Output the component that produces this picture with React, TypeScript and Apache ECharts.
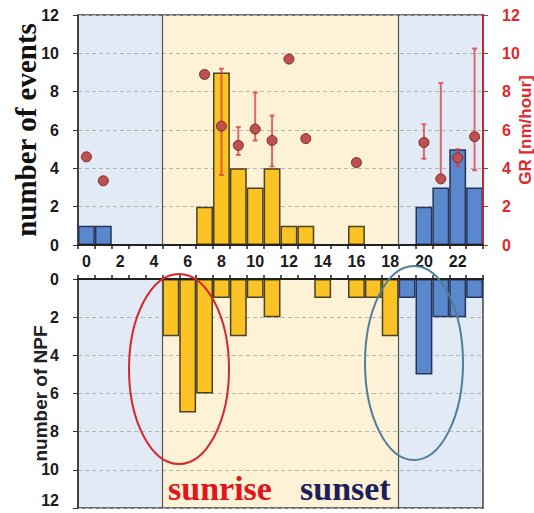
import React, { useEffect, useRef } from "react";
import * as echarts from "echarts";

const hours = ["0","1","2","3","4","5","6","7","8","9","10","11","12","13","14","15","16","17","18","19","20","21","22","23"];
const events = [1,1,0,0,0,0,0,2,9,4,3,4,1,1,0,0,1,0,0,0,2,3,5,3];
const npf = [0,0,0,0,0,3,7,6,1,3,1,2,0,0,1,0,1,1,3,1,5,2,2,1];
const gr = [4.6,3.35,null,null,null,null,null,8.9,6.2,5.2,6.05,5.45,9.7,5.55,null,null,4.3,null,null,null,5.35,3.45,4.55,5.65];
const grLow = [null,null,null,null,null,null,null,null,3.65,4.7,5.45,4.1,null,null,null,null,null,null,null,null,4.5,3.4,4.1,3.9];
const grHigh = [null,null,null,null,null,null,null,null,9.2,6.15,7.95,6.75,null,null,null,null,null,null,null,null,6.3,8.45,5.0,10.25];
const yTicks = [0, 12, 2];
const dayStart = 5;
const dayEnd = 19;

const YELLOW = "#fbc424";
const BLUE = "#5b87cc";
const SHADE_BLUE = "#e2eaf6";
const SHADE_YELLOW = "#fdf2d6";
const SANS = "'Liberation Sans', Arial, sans-serif";
const SERIF = "'Liberation Serif', 'Times New Roman', serif";

function barData(vals: number[]) {
  return vals.map((v, i) => ({
    value: v === 0 ? null : v,
    itemStyle: {
      color: i >= dayStart && i < dayEnd ? YELLOW : BLUE,
      borderColor: i >= dayStart && i < dayEnd ? "#4a4224" : "#26365a",
      borderWidth: 1.5,
    },
  }));
}

function shading(xAxisIndex: number, yAxisIndex: number) {
  return {
    type: "line",
    xAxisIndex,
    yAxisIndex,
    data: [[0, 0]],
    showSymbol: false,
    lineStyle: { opacity: 0 },
    silent: true,
    z: -1,
    markArea: {
      silent: true,
      z: -1,
      data: [
        [{ xAxis: 0, itemStyle: { color: SHADE_BLUE } }, { xAxis: dayStart }],
        [{ xAxis: dayStart, itemStyle: { color: SHADE_YELLOW } }, { xAxis: dayEnd }],
        [{ xAxis: dayEnd, itemStyle: { color: SHADE_BLUE } }, { xAxis: 24 }],
      ],
    },
    markLine: {
      silent: true,
      symbol: "none",
      label: { show: false },
      lineStyle: { color: "#555", type: "solid", width: 1.2 },
      data: [{ xAxis: dayStart }, { xAxis: dayEnd }],
    },
  };
}

export default function App() {
  const ref = useRef<HTMLDivElement>(null);
  useEffect(() => {
    if (!ref.current) return;
    const chart = echarts.init(ref.current, null, { renderer: "svg" });
    const errData: any[] = [];
    grLow.forEach((lo, i) => {
      if (lo != null && grHigh[i] != null) errData.push([i, lo, grHigh[i]]);
    });
    const splitLine = { show: true, lineStyle: { color: "#b5b5b5", type: [4, 3], width: 1 } };
    const option: any = {
      animation: false,
      backgroundColor: "#ffffff",
      grid: [
        { left: 78, top: 15, width: 405, height: 230, show: true, borderColor: "#444", borderWidth: 1.5, backgroundColor: "transparent", outerBoundsMode: "none", containLabel: false },
        { left: 78, top: 279, width: 405, height: 229, show: true, borderColor: "#444", borderWidth: 1.5, backgroundColor: "transparent", outerBoundsMode: "none", containLabel: false },
      ],
      xAxis: [
        {
          type: "category", gridIndex: 0, data: hours, boundaryGap: true, z: 3,
          axisLine: { lineStyle: { color: "#222", width: 2 } },
          axisTick: { show: true, interval: 0, length: 4, lineStyle: { color: "#222", width: 1.5 } },
          axisLabel: { interval: 1, margin: 8, color: "#1a1a1a", fontWeight: "bold", fontSize: 16, fontFamily: SANS },
        },
        { type: "value", gridIndex: 0, min: 0, max: 24, show: false },
        {
          type: "category", gridIndex: 1, data: hours, position: "top", boundaryGap: true, z: 3,
          axisLine: { lineStyle: { color: "#222", width: 2 } },
          axisTick: { show: true, interval: 0, length: 4, lineStyle: { color: "#222", width: 1.5 } },
          axisLabel: { show: false },
        },
        { type: "value", gridIndex: 1, min: 0, max: 24, show: false },
      ],
      yAxis: [
        {
          type: "value", gridIndex: 0, min: yTicks[0], max: yTicks[1], interval: yTicks[2], position: "left", z: 1.5,
          axisLine: { show: true, lineStyle: { color: "#333", width: 1.5 } },
          axisTick: { show: true, length: 5, lineStyle: { color: "#333" } },
          axisLabel: { margin: 19, color: "#1a1a1a", fontWeight: "bold", fontSize: 16, fontFamily: SANS },
          splitLine,
          name: "number of events", nameLocation: "middle", nameGap: 38, nameMoveOverlap: false,
          nameTextStyle: { fontFamily: SERIF, fontWeight: "bold", fontSize: 29, color: "#111" },
        },
        {
          type: "value", gridIndex: 0, min: yTicks[0], max: yTicks[1], interval: yTicks[2], position: "right", z: 3,
          axisLine: { show: true, lineStyle: { color: "#c0282d", width: 2 } },
          axisTick: { show: true, length: 5, lineStyle: { color: "#c0282d" } },
          axisLabel: { margin: 19, color: "#e0282d", fontWeight: "bold", fontSize: 16, fontFamily: SANS },
          splitLine: { show: false },
          name: "GR [nm/hour]", nameLocation: "middle", nameGap: 34, nameRotate: 90, nameMoveOverlap: false,
          nameTextStyle: { fontFamily: SANS, fontWeight: "bold", fontSize: 17, color: "#e0282d" },
        },
        {
          type: "value", gridIndex: 1, min: yTicks[0], max: yTicks[1], interval: yTicks[2], inverse: true, position: "left", z: 1.5,
          axisLine: { show: true, lineStyle: { color: "#333", width: 1.5 } },
          axisTick: { show: true, length: 5, lineStyle: { color: "#333" } },
          axisLabel: { margin: 19, color: "#1a1a1a", fontWeight: "bold", fontSize: 16, fontFamily: SANS, verticalAlignMaxLabel: "bottom" },
          splitLine,
          name: "number of NPF", nameLocation: "middle", nameGap: 28, nameMoveOverlap: false,
          nameTextStyle: { fontFamily: SANS, fontWeight: "bold", fontSize: 19, color: "#222" },
        },
      ],
      series: [
        shading(1, 0),
        shading(3, 2),
        {
          type: "bar", xAxisIndex: 0, yAxisIndex: 0, data: barData(events),
          barWidth: "100%", barCategoryGap: "0%", z: 2,
        },
        {
          type: "custom", xAxisIndex: 0, yAxisIndex: 1, data: errData, z: 3,
          encode: { x: 0, y: [1, 2] },
          renderItem: (params: any, api: any) => {
            const lo = api.coord([api.value(0), api.value(1)]);
            const hi = api.coord([api.value(0), api.value(2)]);
            const style = { stroke: "rgba(214,60,60,0.75)", lineWidth: 2 };
            return {
              type: "group",
              children: [
                { type: "line", shape: { x1: lo[0], y1: lo[1], x2: hi[0], y2: hi[1] }, style },
                { type: "line", shape: { x1: lo[0] - 2.5, y1: lo[1], x2: lo[0] + 2.5, y2: lo[1] }, style },
                { type: "line", shape: { x1: hi[0] - 2.5, y1: hi[1], x2: hi[0] + 2.5, y2: hi[1] }, style },
              ],
            };
          },
        },
        {
          type: "scatter", xAxisIndex: 0, yAxisIndex: 1, data: gr, symbolSize: 10, z: 4,
          itemStyle: { color: "#c0504d", borderColor: "#7a2a2a", borderWidth: 1, opacity: 1 },
        },
        {
          type: "bar", xAxisIndex: 2, yAxisIndex: 2, data: barData(npf),
          barWidth: "100%", barCategoryGap: "0%", z: 2,
        },
      ],
      graphic: [
        { type: "ellipse", shape: { cx: 179, cy: 369, rx: 50, ry: 95 }, style: { fill: "transparent", stroke: "#d8262b", lineWidth: 2 }, z: 10 },
        { type: "ellipse", shape: { cx: 414, cy: 363, rx: 49, ry: 97 }, style: { fill: "transparent", stroke: "#4f7d9c", lineWidth: 2 }, z: 10 },
        { type: "text", x: 168, y: 488, z: 10, style: { text: "sunrise", font: `bold 34px ${SERIF}`, fill: "#e0161c", textVerticalAlign: "middle" } },
        { type: "text", x: 300, y: 488, z: 10, style: { text: "sunset", font: `bold 34px ${SERIF}`, fill: "#1c1f5c", textVerticalAlign: "middle" } },
      ],
    };
    chart.setOption(option);
    return () => chart.dispose();
  }, []);
  return <div ref={ref} style={{ position: "fixed", left: 0, top: 0, width: 534, height: 513 }} />;
}
